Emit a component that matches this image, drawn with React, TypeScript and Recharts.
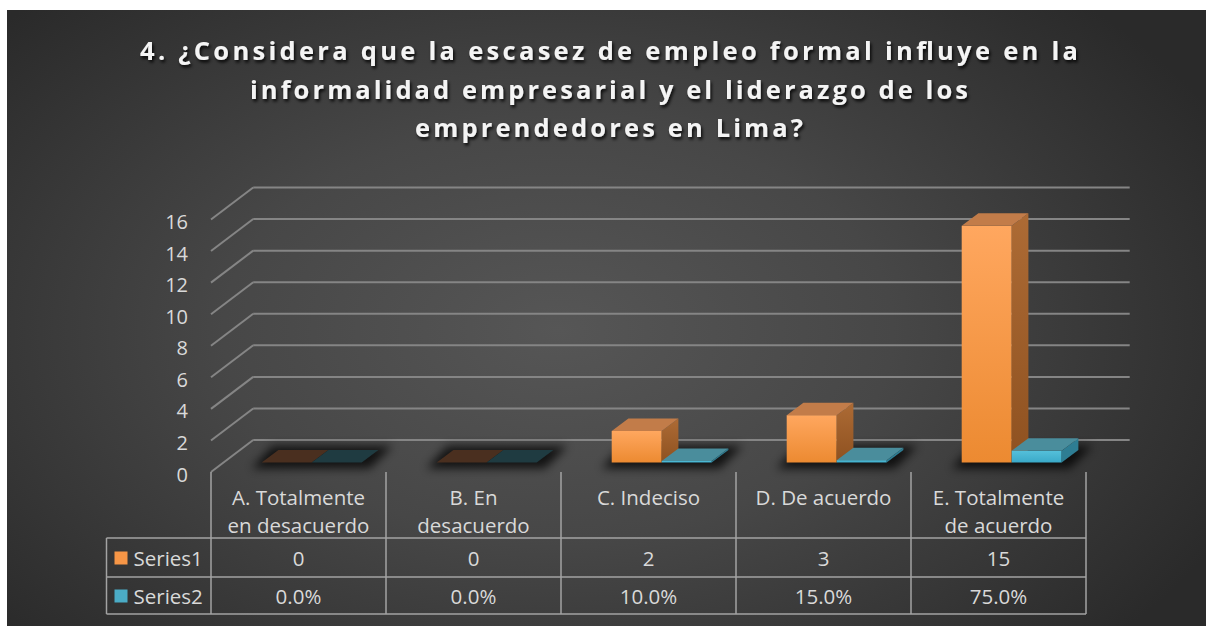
import React from 'react';
import { BarChart, Bar, XAxis, YAxis, CartesianGrid } from 'recharts';

const titleLines = [
    '4. ¿Considera que la escasez de empleo formal influye en la',
    'informalidad empresarial y el liderazgo de los',
    'emprendedores en Lima?',
];
const titleWidths = [938, 718, 388];

const categories = [
    'A. Totalmente en desacuerdo',
    'B. En desacuerdo',
    'C. Indeciso',
    'D. De acuerdo',
    'E. Totalmente de acuerdo',
];
const categoryLines = [
    ['A. Totalmente', 'en desacuerdo'],
    ['B. En', 'desacuerdo'],
    ['C. Indeciso'],
    ['D. De acuerdo'],
    ['E. Totalmente', 'de acuerdo'],
];
const series1 = [0, 0, 2, 3, 15];
const series2 = [0, 0, 0.1, 0.15, 0.75];
const seriesNames = ['Series1', 'Series2'];
const yTicks = [0, 2, 4, 6, 8, 10, 12, 14, 16];

const data = categories.map((name, i) => ({ name, s1: series1[i], s2: series2[i] }));

// layout of the pseudo 3D plot (bar plane = recharts plot area)
const W = 1206;
const H = 626;
const PLOT = { left: 223.7, right: 1098.7, top: 210, bottom: 462.5 };
const FRONT = { dx: -12.7, dy: 9.5 };
const BACK = { dx: 29.5, dy: -22.5 };
const DEPTH = { dx: 16.7, dy: -12.5 };
const TABLE = { left: 106.5, header: 538, row1: 577, row2: 614 };
const COL_W = (PLOT.right - PLOT.left) / categories.length;

const FONT = '"Open Sans", Lato, sans-serif';
const TEXT = '#d9d9d9';
const GRID = '#858585';
const LINE = '#a3a3a3';

const colors = {
    s1: { front: 'url(#orangeFront)', top: '#c27c49', side: 'url(#orangeSide)', flat: '#4a2f1f', key: '#f79646' },
    s2: { front: 'url(#cyanFront)', top: '#4a8d9c', side: '#2e7d93', flat: '#1f3b41', key: '#4bacc6' },
};

const makeBox = (c: typeof colors.s1, withShadow: boolean) => (props: any) => {
    const { x, y, width, height } = props;
    const base = y + height;
    const { dx, dy } = DEPTH;
    const flat = height < 0.5;
    return (
        <g>
            {withShadow && (
                <polygon
                    points={`${x - 10},${base + 6} ${x + 2 * width + 8},${base + 6} ${x + 2 * width + dx + 14},${base + dy - 4} ${x + dx - 6},${base + dy - 4}`}
                    fill="#000"
                    opacity={0.75}
                    filter="url(#blurShadow)"
                />
            )}
            {!flat && <rect x={x} y={y} width={width} height={height} fill={c.front} />}
            {!flat && (
                <polygon points={`${x + width},${y} ${x + width + dx},${y + dy} ${x + width + dx},${base + dy} ${x + width},${base}`} fill={c.side} />
            )}
            <polygon
                points={`${x},${y} ${x + width},${y} ${x + width + dx},${y + dy} ${x + dx},${y + dy}`}
                fill={flat ? c.flat : c.top}
            />
        </g>
    );
};

const gridLine = (props: any) => {
    const { y1, x1, x2, index } = props;
    return (
        <g key={`g-${index}`}>
            <line x1={x1 + FRONT.dx} y1={y1 + FRONT.dy} x2={x1 + BACK.dx} y2={y1 + BACK.dy} stroke={GRID} strokeWidth={2} />
            <line x1={x1 + BACK.dx} y1={y1 + BACK.dy} x2={x2 + BACK.dx + 1.5} y2={y1 + BACK.dy} stroke={GRID} strokeWidth={2} />
        </g>
    );
};

const YTick = (props: any) => {
    const { y, payload } = props;
    return (
        <text x={188} y={y + FRONT.dy + 2} textAnchor="end" dominantBaseline="central" fill={TEXT} fontSize={20} fontFamily={FONT}>
            {payload.value}
        </text>
    );
};

const fmtPct = (v: number) => `${(v * 100).toFixed(1)}%`;

const TableColumn = (props: any) => {
    const { x, index } = props;
    const cx = x + FRONT.dx;
    const l = cx - COL_W / 2;
    const r = cx + COL_W / 2;
    const top = PLOT.bottom + FRONT.dy;
    const lines = categoryLines[index];
    const rowMid1 = (TABLE.header + TABLE.row1) / 2;
    const rowMid2 = (TABLE.row1 + TABLE.row2) / 2;
    const tx = { fill: TEXT, fontSize: 20.5, fontFamily: FONT, dominantBaseline: 'central' as const };
    return (
        <g>
            <line x1={l} y1={top} x2={l} y2={TABLE.row2} stroke={LINE} strokeWidth={1.5} />
            {index === categories.length - 1 && <line x1={r} y1={top} x2={r} y2={TABLE.row2} stroke={LINE} strokeWidth={1.5} />}
            {[TABLE.header, TABLE.row1, TABLE.row2].map((ly) => (
                <line key={ly} x1={l} y1={ly} x2={r} y2={ly} stroke={LINE} strokeWidth={1.5} />
            ))}
            {lines.map((t, i) => (
                <text key={i} x={cx} y={496.5 + i * 28.5} textAnchor="middle" {...tx}>
                    {t}
                </text>
            ))}
            <text x={cx} y={rowMid1} textAnchor="middle" {...tx}>{series1[index]}</text>
            <text x={cx} y={rowMid2} textAnchor="middle" {...tx}>{fmtPct(series2[index])}</text>
            {index === 0 && (
                <g>
                    <line x1={TABLE.left} y1={TABLE.header} x2={TABLE.left} y2={TABLE.row2} stroke={LINE} strokeWidth={1.5} />
                    {[TABLE.header, TABLE.row1, TABLE.row2].map((ly) => (
                        <line key={ly} x1={TABLE.left} y1={ly} x2={l} y2={ly} stroke={LINE} strokeWidth={1.5} />
                    ))}
                    <rect x={114.5} y={rowMid1 - 6} width={13} height={13} fill={colors.s1.key} />
                    <rect x={114.5} y={rowMid2 - 6} width={13} height={13} fill={colors.s2.key} />
                    <text x={133.5} y={rowMid1} textAnchor="start" {...tx}>{seriesNames[0]}</text>
                    <text x={133.5} y={rowMid2} textAnchor="start" {...tx}>{seriesNames[1]}</text>
                </g>
            )}
        </g>
    );
};

export default function App() {
    return (
        <div style={{ position: 'fixed', left: 0, top: 0, width: W, height: H, background: '#fff', overflow: 'hidden' }}>
            <svg width={0} height={0} style={{ position: 'absolute' }}>
                <defs>
                    <linearGradient id="orangeFront" x1="0" y1="0" x2="0" y2="1">
                        <stop offset="0%" stopColor="#ffa75f" />
                        <stop offset="100%" stopColor="#ec8a31" />
                    </linearGradient>
                    <linearGradient id="orangeSide" x1="0" y1="0" x2="0" y2="1">
                        <stop offset="0%" stopColor="#ad6b35" />
                        <stop offset="100%" stopColor="#8e5120" />
                    </linearGradient>
                    <linearGradient id="cyanFront" x1="0" y1="0" x2="0" y2="1">
                        <stop offset="0%" stopColor="#55c0da" />
                        <stop offset="100%" stopColor="#3aa9c8" />
                    </linearGradient>
                    <filter id="blurShadow" x="-50%" y="-200%" width="200%" height="500%">
                        <feGaussianBlur stdDeviation="5" />
                    </filter>
                    <filter id="titleShadow" x="-5%" y="-50%" width="110%" height="200%">
                        <feDropShadow dx="1.5" dy="2.5" stdDeviation="1.5" floodColor="#000" floodOpacity="0.85" />
                    </filter>
                </defs>
            </svg>
            <div
                style={{
                    position: 'absolute',
                    left: 7,
                    top: 10,
                    width: W - 7,
                    height: H - 10,
                    background: 'radial-gradient(ellipse 62% 75% at 46% 52%, #565656 0%, #474747 45%, #2a2a2a 100%)',
                }}
            />
            <svg width={W} height={H} style={{ position: 'absolute', left: 0, top: 0 }}>
                {titleLines.map((t, i) => (
                    <text
                        key={i}
                        x={609}
                        y={60 + i * 38.7}
                        textAnchor="middle"
                        textLength={titleWidths[i]}
                        lengthAdjust="spacing"
                        fill="#f4f4f4"
                        fontSize={25.5}
                        fontWeight={700}
                        fontFamily={FONT}
                        filter="url(#titleShadow)"
                    >
                        {t}
                    </text>
                ))}
            </svg>
            <div style={{ position: 'absolute', left: 0, top: 0 }}>
                <BarChart
                    width={W}
                    height={H}
                    data={data}
                    margin={{ top: PLOT.top, right: W - PLOT.right, bottom: H - PLOT.bottom - 30, left: PLOT.left - 60 }}
                    barSize={50}
                    barGap={0}
                    style={{ overflow: 'visible' }}
                >
                    <CartesianGrid vertical={false} horizontal={gridLine} />
                    <XAxis dataKey="name" height={30} interval={0} axisLine={false} tickLine={false} tick={<TableColumn />} />
                    <YAxis width={60} domain={[0, 16]} ticks={yTicks} axisLine={false} tickLine={false} tick={<YTick />} />
                    <Bar dataKey="s1" isAnimationActive={false} shape={makeBox(colors.s1, true)} />
                    <Bar dataKey="s2" isAnimationActive={false} shape={makeBox(colors.s2, false)} />
                </BarChart>
            </div>
        </div>
    );
}
